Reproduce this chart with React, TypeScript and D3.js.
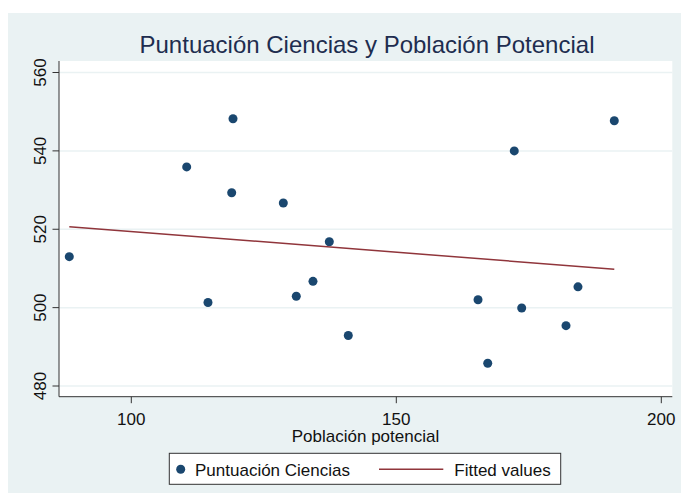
import React from "react";
import * as d3 from "d3";

const poblacion = [88.3, 110.45, 119.19, 118.94, 114.47, 128.68, 131.13, 134.28, 137.36, 140.94, 165.42, 167.25, 172.26, 173.66, 182.02, 184.28, 191.13];
const ciencias = [513.0, 535.9, 548.2, 529.3, 501.3, 526.7, 502.9, 506.7, 516.8, 492.9, 502.0, 485.8, 540.0, 499.9, 495.4, 505.3, 547.7];
const fittedX = [88.3, 191.13];
const fittedY = [520.65, 509.8];
const xTicks = [100, 150, 200];
const yTicks = [480, 500, 520, 540, 560];
const title = "Puntuación Ciencias y Población Potencial";
const xTitle = "Población potencial";
const legendLabels = ["Puntuación Ciencias", "Fitted values"];

const BG = "#EAF2F3";
const NAVY = "#1a476f";
const MAROON = "#90353b";
const FONT = "'Liberation Sans', Arial, sans-serif";

export default function App() {
  const plotL = 59, plotR = 672.3, plotT = 61, plotB = 396.7;
  const x = d3.scaleLinear().domain([100, 200]).range([131.3, 661.3]);
  const y = d3.scaleLinear().domain([480, 560]).range([386, 72.5]);
  const line = d3.line<number>().x((d) => x(fittedX[d])).y((d) => y(fittedY[d]));

  return (
    <svg width={681} height={500} style={{ position: "absolute", left: 0, top: 0 }} fontFamily={FONT}>
      <rect x={8} y={13} width={673} height={480} fill={BG} />
      <text x={367} y={53.3} textAnchor="middle" fontSize={24} fill="#1e2d4f">{title}</text>
      <rect x={plotL} y={plotT} width={plotR - plotL} height={plotB - plotT} fill="#fff" />
      {yTicks.map((t) => (
        <g key={t}>
          <line x1={plotL} x2={plotR} y1={y(t)} y2={y(t)} stroke={BG} strokeWidth={1.5} />
          <line x1={plotL - 6.5} x2={plotL} y1={y(t)} y2={y(t)} stroke="#333" strokeWidth={1} />
          <text transform={`translate(45.5,${y(t)}) rotate(-90)`} textAnchor="middle" fontSize={17} fill="#111">{t}</text>
        </g>
      ))}
      {xTicks.map((t) => (
        <g key={t}>
          <line x1={x(t)} x2={x(t)} y1={plotB} y2={plotB + 6.5} stroke="#333" strokeWidth={1} />
          <text x={x(t)} y={425} textAnchor="middle" fontSize={17} fill="#111">{t}</text>
        </g>
      ))}
      <line x1={plotL} x2={plotL} y1={plotT} y2={plotB} stroke="#333" strokeWidth={1} />
      <line x1={plotL} x2={plotR} y1={plotB} y2={plotB} stroke="#333" strokeWidth={1} />
      <text x={365.5} y={441.5} textAnchor="middle" fontSize={17} fill="#111">{xTitle}</text>
      {poblacion.map((p, i) => (
        <circle key={i} cx={x(p)} cy={y(ciencias[i])} r={4.5} fill={NAVY} />
      ))}
      <path d={line([0, 1]) || ""} stroke={MAROON} strokeWidth={1.5} fill="none" />
      <rect x={169.3} y={453.3} width={391.4} height={31} fill="#fff" stroke="#333" strokeWidth={1} />
      <circle cx={180.7} cy={469.3} r={4.5} fill={NAVY} />
      <text x={195} y={475.5} fontSize={17} fill="#111">{legendLabels[0]}</text>
      <line x1={379} x2={443.3} y1={469.3} y2={469.3} stroke={MAROON} strokeWidth={1.5} />
      <text x={454.3} y={475.5} fontSize={17} fill="#111">{legendLabels[1]}</text>
    </svg>
  );
}
